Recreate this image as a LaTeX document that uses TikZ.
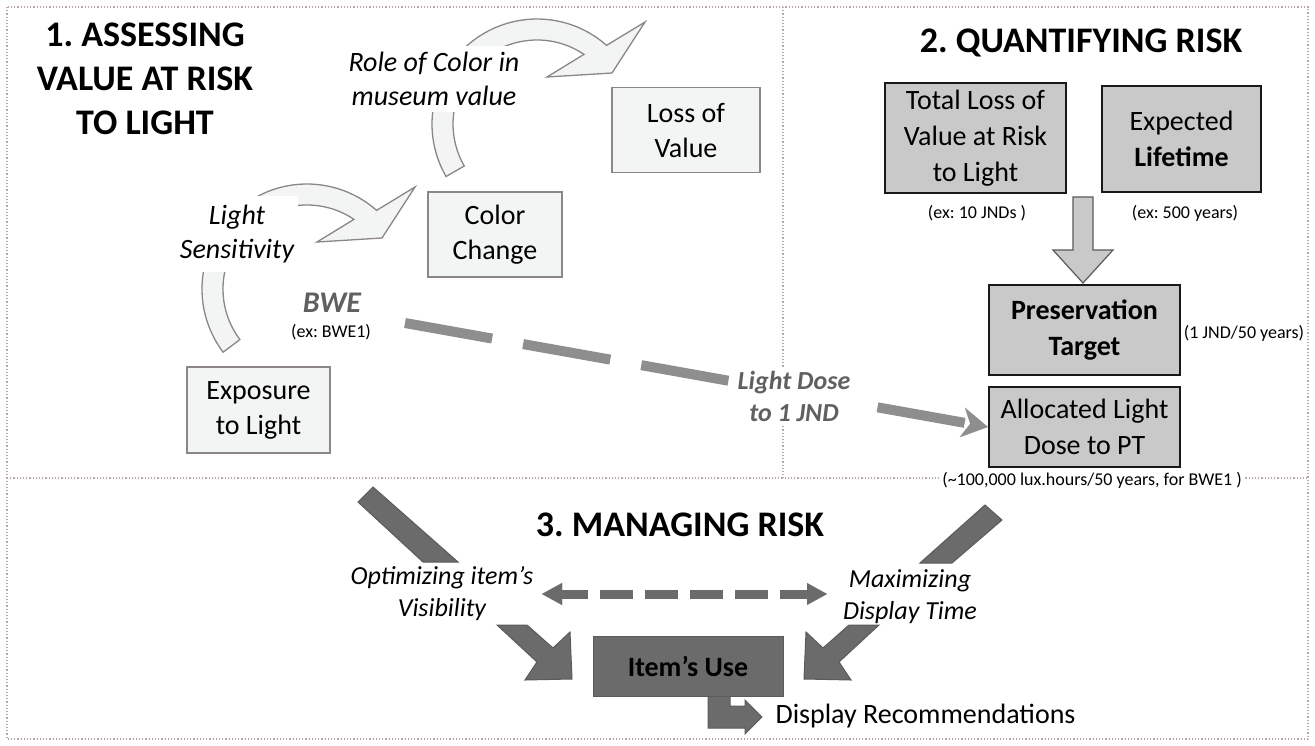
\documentclass[tikz,border=0pt]{standalone}
\usepackage{fontspec}
\setmainfont{Carlito}
\usetikzlibrary{positioning,arrows.meta,calc}
\frenchspacing

\definecolor{pale}{RGB}{243,245,245}
\definecolor{paleline}{RGB}{140,134,134}
\definecolor{midgrey}{RGB}{201,201,201}
\definecolor{darkgrey}{RGB}{107,107,107}
\definecolor{dashgrey}{RGB}{142,142,142}
\definecolor{framecol}{RGB}{185,168,168}
\definecolor{labelgrey}{RGB}{96,96,96}

% hollow curved arrow: #1 centre, #2 start angle of the tail
\newcommand{\swoosh}[2]{%
  \begin{scope}[shift={#1}]
    \draw[swirl] (#2:105) arc[start angle=#2, end angle=311.5, radius=105]
      -- (108,-102) -- (75,-51) -- (10,-47) -- (304:84)
      arc[start angle=304, end angle=#2, radius=84] -- cycle;
  \end{scope}}

\begin{document}
\begin{tikzpicture}[x=1pt, y=-1pt,
  lbox/.style={draw=paleline, line width=1.5pt, fill=pale, align=center, inner sep=0pt,
    font=\fontsize{28}{35}\selectfont},
  gbox/.style={draw=black!90, line width=2.2pt, fill=midgrey, align=center, inner sep=0pt,
    font=\fontsize{28}{36}\selectfont},
  hdr/.style={font=\fontsize{36}{44}\selectfont\bfseries, align=center},
  note/.style={font=\fontsize{18}{22}\selectfont},
  itl/.style={font=\fontsize{28}{34}\selectfont\itshape, align=center},
  swirl/.style={draw=paleline, fill=pale, line width=1.3pt},
  block/.style={draw=darkgrey!85!black, fill=darkgrey, line width=1pt},
  frame/.style={draw=framecol, dotted, line width=1.2pt}]

  \fill[white] (0,0) rectangle (1315,745);
  \useasboundingbox (0,0) rectangle (1315,745);

  % panels
  \draw[frame] (7,7) rectangle (1308,739);
  \draw[frame] (783,7) -- (783,478);
  \draw[frame] (7,478) -- (1308,478);

  % 1. assessing
  \node[hdr] (t1) at (145,79) {1. ASSESSING\\VALUE AT RISK\\TO LIGHT};
  \swoosh{(307,289)}{143}
  \swoosh{(537,124)}{150}
  \node[itl, fill=white, minimum height=76pt, inner xsep=4pt] (sens) at (237,234) {Light\\Sensitivity};
  \node[itl, fill=white, minimum height=66pt, inner xsep=6pt] (role) at (434,79) {Role of Color in\\museum value};
  \node[lbox, minimum width=148pt, minimum height=85pt] (loss) at (686,130) {Loss of\\Value};
  \node[lbox, minimum width=134pt, minimum height=85pt] (change) at (495,234.5) {Color\\Change};
  \node[lbox, minimum width=143pt, minimum height=86pt] (expo) at (258.5,410) {Exposure\\to Light};
  \node[font=\fontsize{30}{30}\selectfont\bfseries\itshape, text=labelgrey] (bwe) at (332,303) {BWE};
  \node[note] (bwex) at (331,332) {(ex: BWE1)};
  \coordinate (dstart) at (405,323);

  % 2. quantifying
  \node[hdr] (t2) at (1081,43) {2. QUANTIFYING RISK};
  \node[gbox, minimum width=181pt, minimum height=110pt] (total) at (975.5,138) {Total Loss of\\Value at Risk\\to Light};
  \node[gbox, minimum width=159pt, minimum height=106pt] (life) at (1181.5,139) {Expected\\\textbf{Lifetime}};
  \node[note] (n1) at (977,213) {(ex: 10 JNDs )};
  \node[note] (n2) at (1185,213) {(ex: 500 years)};
  \draw[draw=black!65, fill=midgrey, line width=1.2pt] (1073,197) -- (1093,197) -- (1093,250)
    -- (1113,250) -- (1083,283) -- (1053,250) -- (1073,250) -- cycle;
  \node[gbox, minimum width=191pt, minimum height=90pt] (target) at (1084.5,330) {\textbf{Preservation}\\\textbf{Target}};
  \node[note] (n3) at (1244,333) {(1 JND/50 years)};
  \node[gbox, minimum width=191pt, minimum height=80pt] (alloc) at (1084.5,427) {Allocated Light\\Dose to PT};
  \node[note, fill=white, inner sep=3pt] (n4) at (1092,480) {(\textasciitilde100,000 lux.hours/50 years, for BWE1 )};

  \draw[dashgrey, line width=10pt, dash pattern=on 88.5pt off 31.5pt,
    -{Stealth[length=26pt,width=30pt,inset=8pt,line width=0.01pt]}] (dstart) -- (alloc.west);
  \node[font=\fontsize{26}{32}\selectfont\bfseries\itshape, text=labelgrey, fill=white,
    align=center, inner sep=3pt] (dose) at (794,396) {Light Dose\\to 1 JND};

  % 3. managing
  \node[hdr] (t3) at (680,525) {3. MANAGING RISK};
  \draw[block] (358,502) -- (373,487) -- (458,562) -- (423,562) -- cycle;
  \draw[block] (1002,520) -- (985,505) -- (920,563) -- (952,563) -- cycle;
  \node[itl, font=\fontsize{26}{32}\selectfont\itshape] (opt) at (442,594) {Optimizing item’s\\Visibility};
  \node[itl, font=\fontsize{26}{32}\selectfont\itshape] (maxi) at (910,597) {Maximizing\\Display Time};
  \coordinate (dl) at (542,594);
  \coordinate (dr) at (827,594);
  \draw[darkgrey, line width=9pt, dash pattern=on 33pt off 12pt, dash phase=7pt,
    {Triangle[length=20pt,width=22pt,line width=0.01pt]}-{Triangle[length=20pt,width=22pt,line width=0.01pt]}] (dl) -- (dr);
  \draw[block] (497,625) -- (527,625) -- (553,648) -- (570,632) -- (572,679) -- (525,680) -- (537,662) -- cycle;
  \draw[block] (879,625) -- (849,625) -- (823,648) -- (806,632) -- (804,679) -- (851,680) -- (839,662) -- cycle;
  \draw[block] (708,690) -- (708,728) -- (745,728) -- (745,734) -- (762,717) -- (745,700)
    -- (745,706) -- (730,706) -- (730,690) -- cycle;
  \node[fill=darkgrey, draw=darkgrey!85!black, minimum width=190pt, minimum height=60pt,
    font=\fontsize{28}{28}\selectfont\bfseries] (use) at (688,666) {Item’s Use};
  \node[font=\fontsize{28}{28}\selectfont, anchor=west] (rec) at (772,716) {Display Recommendations};
\end{tikzpicture}
\end{document}
